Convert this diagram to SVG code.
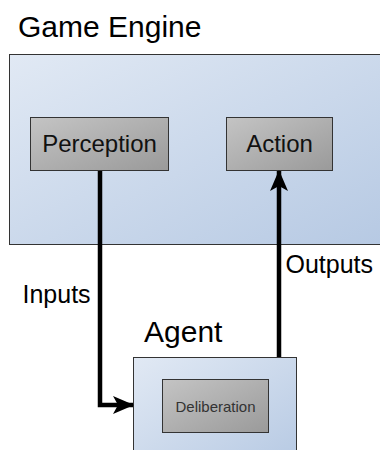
<svg xmlns="http://www.w3.org/2000/svg" width="380" height="450" viewBox="0 0 380 450">
<defs>
<linearGradient id="blue" x1="0" y1="0" x2="1" y2="1">
<stop offset="0" stop-color="#e1e9f4"/>
<stop offset="1" stop-color="#b6c9e3"/>
</linearGradient>
<linearGradient id="gray" x1="0" y1="0" x2="1" y2="1">
<stop offset="0" stop-color="#c4c4c4"/>
<stop offset="1" stop-color="#9a9a9a"/>
</linearGradient>
<marker id="arr" viewBox="0 0 21 18" refX="20" refY="9" markerWidth="21" markerHeight="18" orient="auto" markerUnits="userSpaceOnUse">
<path d="M0,0 L21,9 L0,18 L5,9 Z" fill="#000"/>
</marker>
<style>
.cont{fill:url(#blue);stroke:#333;stroke-width:1}
.box{fill:url(#gray);stroke:#333;stroke-width:1}
text{font-family:"Liberation Sans",Arial,sans-serif;fill:#000}
.title{font-size:30px}
.lbl{font-size:24px;text-anchor:middle;fill:#111}
.edge{font-size:25px}
.conn{fill:none;stroke:#000;stroke-width:4.5}
</style>
</defs>
<g id="game-engine">
<rect class="cont" x="9.5" y="54.5" width="380" height="190"/>
<text class="title" x="18" y="37">Game Engine</text>
</g>
<g id="perception">
<rect class="box" x="30.5" y="117.5" width="138" height="53"/>
<text class="lbl" x="99.5" y="152">Perception</text>
</g>
<g id="action">
<rect class="box" x="226.5" y="117.5" width="106" height="53"/>
<text class="lbl" x="279.5" y="152">Action</text>
</g>
<g id="agent">
<rect class="cont" x="133.5" y="357.5" width="163" height="110"/>
<text class="title" x="144" y="341.5">Agent</text>
</g>
<g id="deliberation">
<rect class="box" x="162.5" y="379.5" width="106" height="53"/>
<text x="215.5" y="411.5" style="font-size:15px;text-anchor:middle;fill:#333">Deliberation</text>
</g>
<g id="connectors">
<path class="conn" d="M100,171 V405 H133" marker-end="url(#arr)"/>
<path class="conn" d="M279,357 V171" marker-end="url(#arr)"/>
<text class="edge" x="22.5" y="303">Inputs</text>
<text class="edge" x="285.5" y="273">Outputs</text>
</g>
</svg>
